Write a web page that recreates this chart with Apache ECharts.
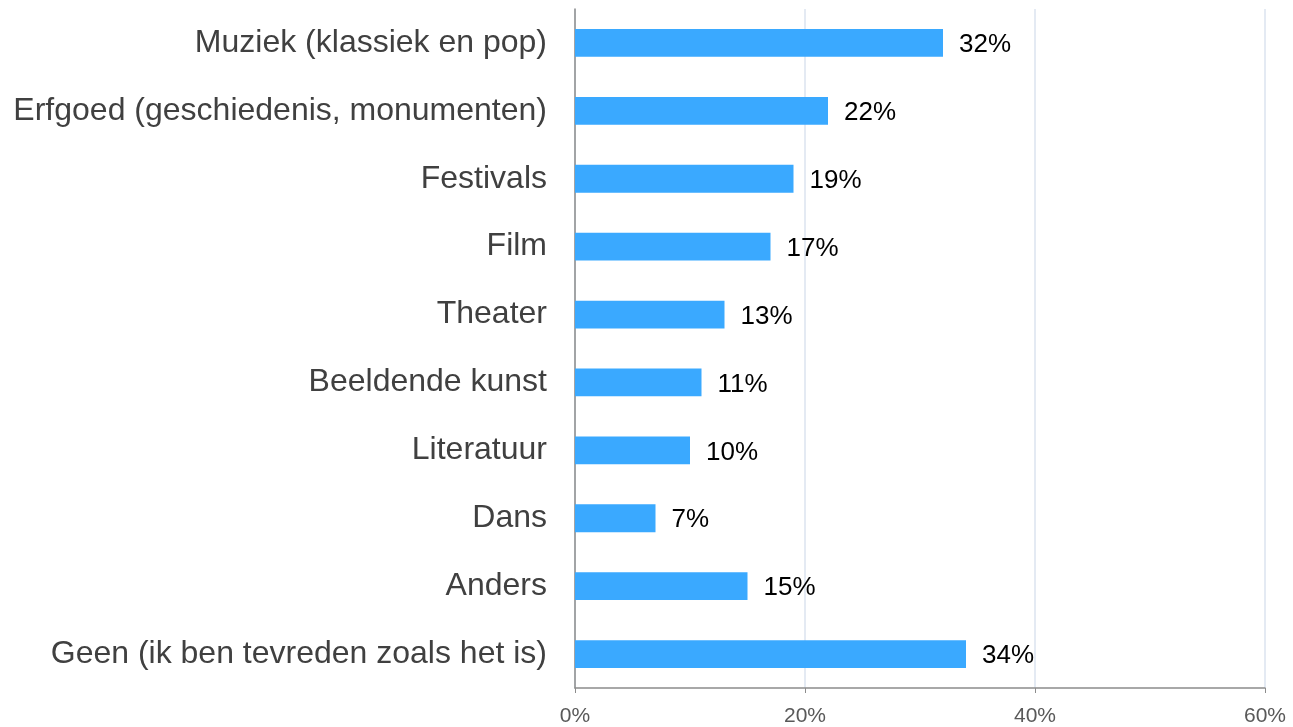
<!DOCTYPE html>
<html>
<head>
<meta charset="utf-8">
<script src="https://cdn.jsdelivr.net/npm/echarts@6/dist/echarts.min.js"></script>
<style>
  html, body { margin: 0; padding: 0; background: #fff; }
  #chart { width: 1293px; height: 727px; }
</style>
</head>
<body>
<div id="chart"></div>
<script>
const categories = [
  'Muziek (klassiek en pop)',
  'Erfgoed (geschiedenis, monumenten)',
  'Festivals',
  'Film',
  'Theater',
  'Beeldende kunst',
  'Literatuur',
  'Dans',
  'Anders',
  'Geen (ik ben tevreden zoals het is)'
];
const values = [32, 22, 19, 17, 13, 11, 10, 7, 15, 34];

const chart = echarts.init(document.getElementById('chart'));
chart.setOption({
  animation: false,
  textStyle: { fontFamily: 'Liberation Sans, Arial, sans-serif' },
  grid: { left: 575, right: 28, top: 9, bottom: 37, containLabel: false },
  xAxis: {
    type: 'value',
    min: 0,
    max: 60,
    interval: 20,
    axisLine: { show: true, lineStyle: { color: '#8c8c8c', width: 1.5 } },
    axisTick: { show: true, length: 5, lineStyle: { color: '#8c8c8c' } },
    axisLabel: { formatter: '{value}%', fontSize: 21, color: '#595959', margin: 18 },
    splitLine: { show: true, lineStyle: { color: '#dbe3ef', width: 1.5 } }
  },
  yAxis: {
    type: 'category',
    data: categories,
    inverse: true,
    axisLine: { show: true, lineStyle: { color: '#8c8c8c', width: 1.5 } },
    axisTick: { show: false },
    axisLabel: { fontSize: 32, color: '#404040', margin: 28, padding: [0, 0, 6, 0] }
  },
  series: [{
    type: 'bar',
    data: values,
    barWidth: '41%',
    itemStyle: { color: '#3aa9ff' },
    label: {
      show: true,
      position: 'right',
      distance: 16,
      offset: [0, 2],
      formatter: '{c}%',
      fontSize: 26,
      color: '#000'
    }
  }]
});
</script>
</body>
</html>
